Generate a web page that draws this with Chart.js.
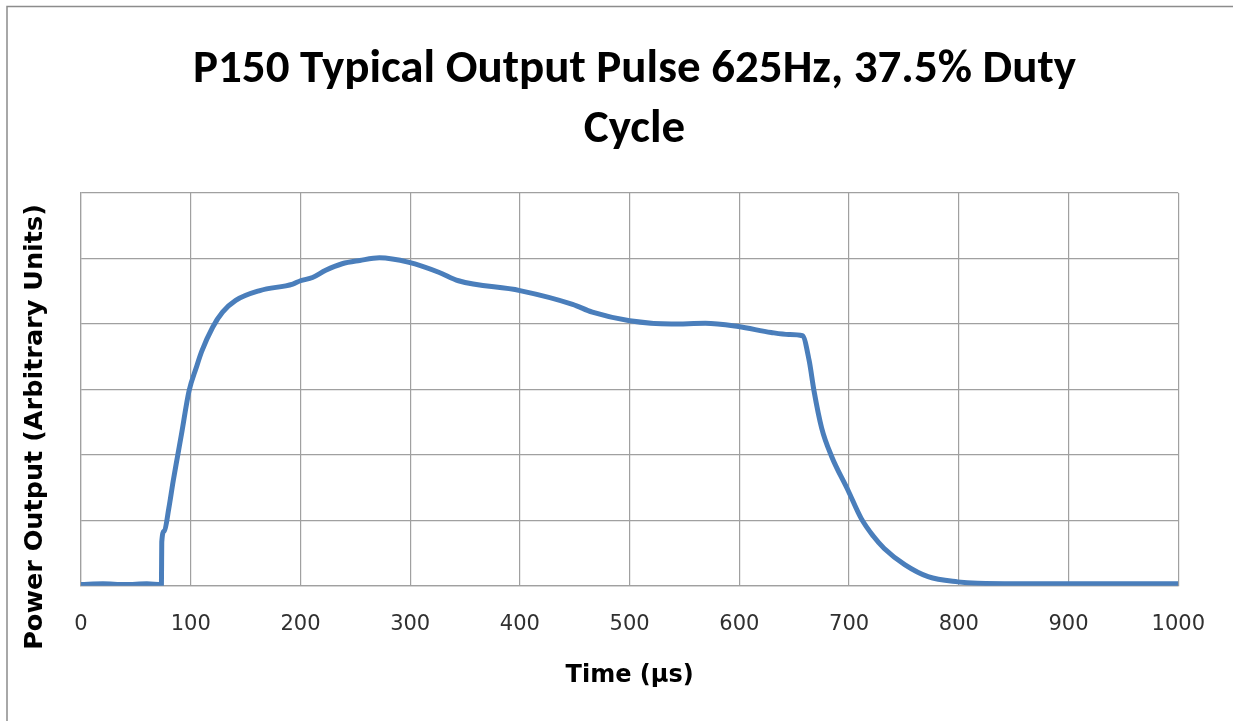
<!DOCTYPE html>
<html>
<head>
<meta charset="utf-8">
<title>P150 Typical Output Pulse</title>
<script src="https://cdn.jsdelivr.net/npm/chart.js@4.4.1/dist/chart.umd.min.js"></script>
<style>
    html, body { margin: 0; padding: 0; background: #fff; }
    #wrap { width: 1233px; height: 721px; position: relative; }
</style>
</head>
<body>
<div id="wrap"><canvas id="pulseChart" width="1233" height="721"></canvas></div>
<script>
'use strict';

// values (time in µs, power in grid units)
const timeUs = [
    0, 20, 40, 60, 73.3, 73.6, 76, 80, 84, 88, 91.5, 98.5, 105, 110, 120, 129, 141, 163, 193, 200,
    211, 223, 238, 254, 272, 299, 326, 344, 400, 448, 466, 500, 538, 569, 599, 629,
    645, 657.5, 663.6, 668, 675, 684, 699, 711, 722, 732, 751, 772, 799, 817, 900, 1000
];
const powerOut = [
    0.02, 0.03, 0.02, 0.03, 0.02, 0.67, 0.84, 1.18, 1.6, 1.98, 2.31, 2.98, 3.33, 3.58, 3.95, 4.18, 4.36, 4.51, 4.61, 4.66,
    4.71, 4.82, 4.92, 4.97, 5.01, 4.94, 4.79, 4.66, 4.51, 4.30, 4.18, 4.05, 4.0, 4.01, 3.96, 3.87,
    3.84, 3.82, 3.44, 2.98, 2.41, 1.98, 1.46, 1.03, 0.76, 0.57, 0.32, 0.14, 0.06, 0.04, 0.03, 0.03
];
const xTicks = [0, 100, 200, 300, 400, 500, 600, 700, 800, 900, 1000];
const titleLines = ['P150 Typical Output Pulse 625Hz, 37.5% Duty', 'Cycle'];
const xTitle = 'Time (µs)';
const yTitle = 'Power Output (Arbitrary Units)';

const frame = {
    id: 'frame',
    beforeDraw: function (chart) {
        const ctx = chart.ctx;
        ctx.save();
        ctx.fillStyle = '#fff';
        ctx.fillRect(0, 0, chart.width, chart.height);
        ctx.strokeStyle = '#8c8c8c';
        ctx.lineWidth = 1.5;
        ctx.strokeRect(7, 6.5, chart.width + 20, chart.height + 20);
        ctx.restore();
    },
    afterDraw: function (chart) {
        const ctx = chart.ctx;
        ctx.save();
        ctx.translate(35, 427);
        ctx.rotate(-Math.PI / 2);
        ctx.font = 'bold 25.5px "DejaVu Sans"';
        ctx.fillStyle = '#000';
        ctx.textAlign = 'center';
        ctx.textBaseline = 'middle';
        ctx.fillText(yTitle, 0, 0);
        ctx.restore();
    }
};

const points = timeUs.map(function (t, i) { return { x: t, y: powerOut[i] }; });

new Chart(document.getElementById('pulseChart'), {
    type: 'line',
    data: {
        datasets: [{
            data: points,
            borderColor: '#4a7ebb',
            borderWidth: 5,
            pointRadius: 0,
            cubicInterpolationMode: 'monotone',
            fill: false
        }]
    },
    options: {
        responsive: false,
        animation: false,
        layout: { padding: { top: 40, left: 81, right: 45, bottom: 33 } },
        plugins: {
            legend: { display: false },
            tooltip: { enabled: false },
            title: {
                display: true,
                text: titleLines,
                color: '#000',
                font: { family: 'Carlito, "Liberation Sans Narrow", "Open Sans"', size: 47, weight: 'bold', lineHeight: 1.277 },
                padding: { top: 0, bottom: 33 }
            }
        },
        scales: {
            x: {
                type: 'linear',
                min: 0,
                max: 1000,
                afterBuildTicks: function (axis) {
                    axis.ticks = xTicks.map(function (v) { return { value: v }; });
                },
                grid: { color: '#a0a0a0', lineWidth: 1.2, drawTicks: false },
                border: { color: '#a0a0a0', width: 1.2 },
                ticks: {
                    color: '#303030',
                    padding: 28,
                    maxRotation: 0,
                    font: { family: '"DejaVu Sans"', size: 21, lineHeight: 1 },
                    callback: function (value) { return String(value); }
                },
                title: {
                    display: true,
                    text: xTitle,
                    color: '#000',
                    padding: { top: 0, bottom: 0 },
                    font: { family: '"DejaVu Sans"', size: 24, weight: 'bold', lineHeight: 1.05 }
                }
            },
            y: {
                min: 0,
                max: 6,
                grid: { color: '#a0a0a0', lineWidth: 1.2, drawTicks: false },
                border: { color: '#a0a0a0', width: 1.2 },
                ticks: { display: false, stepSize: 1 }
            }
        }
    },
    plugins: [frame]
});
</script>
</body>
</html>
